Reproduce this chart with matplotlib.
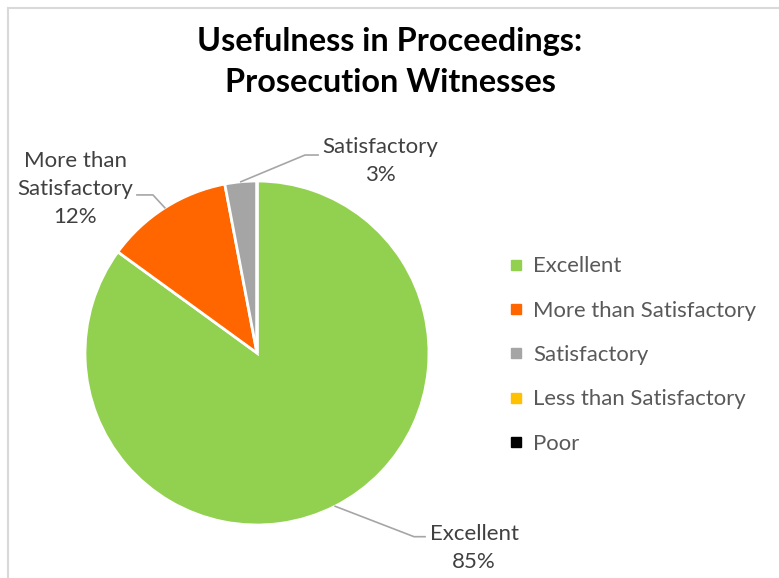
import matplotlib
matplotlib.use("Agg")
import matplotlib.pyplot as plt
from matplotlib.lines import Line2D
import numpy as np

categories = ["Excellent", "More than Satisfactory", "Satisfactory", "Less than Satisfactory", "Poor"]
values = [85, 12, 3, 0, 0]
colors = ["#92D050", "#FF6600", "#A5A5A5", "#FFC000", "#000000"]
label_texts = ["Excellent\n85%", "More than\nSatisfactory\n12%", "Satisfactory\n3%"]

plt.rcParams['font.family'] = ['Lato', 'DejaVu Sans']

W, H = 779, 578
fig = plt.figure(figsize=(W/100, H/100), dpi=100)

# border
fig.add_artist(Line2D([8/W, 8/W], [0, 1 - 8/H], color="#D9D9D9", lw=1.5, transform=fig.transFigure))
fig.add_artist(Line2D([8/W, 1], [1 - 8/H, 1 - 8/H], color="#D9D9D9", lw=1.5, transform=fig.transFigure))

cx, cy, r = 257, 353, 172
ax = fig.add_axes([(cx - r)/W, (H - cy - r)/H, 2*r/W, 2*r/H])

wedges, _ = ax.pie(values, colors=colors, startangle=90, counterclock=False, radius=1,
                   wedgeprops=dict(edgecolor="white", linewidth=2))
ax.set_xlim(-1, 1)
ax.set_ylim(-1, 1)
ax.axis("off")

# label layout (data coords) : text center, elbow, end
layout = [
    dict(text=(1.262, -1.135), elbow=(0.913, -1.068), end=(0.977, -1.068)),
    dict(text=(-1.058, 0.955), elbow=(-0.605, 0.919), end=(-0.698, 0.919)),
    dict(text=(0.715, 1.116), elbow=(0.279, 1.151), end=(0.355, 1.151)),
]
for w, lab, lay in zip(wedges[:3], label_texts, layout):
    ang = np.deg2rad((w.theta1 + w.theta2) / 2)
    p0 = (np.cos(ang), np.sin(ang))
    ax.plot([p0[0], lay["elbow"][0], lay["end"][0]], [p0[1], lay["elbow"][1], lay["end"][1]],
            color="#A6A6A6", lw=1.2, clip_on=False)
    ax.text(lay["text"][0], lay["text"][1], lab, ha="center", va="center", fontsize=16,
            color="#404040", linespacing=1.5, clip_on=False)

fig.text(390/W, 1 - 62/H, "Usefulness in Proceedings:\nProsecution Witnesses", ha="center", va="center",
         fontsize=23.3, fontweight="bold", color="#000000", linespacing=1.52)

handles = [Line2D([], [], marker="s", linestyle="none", markersize=7, markerfacecolor=c,
                  markeredgecolor=c) for c in colors]
fig.legend(handles, categories, loc="center left", bbox_to_anchor=(501/W, 1 - 355/H),
           frameon=False, fontsize=15.9, labelcolor="#595959", handlelength=0.6,
           handletextpad=0.45, labelspacing=1.1, borderaxespad=0)

fig.savefig("out.png", dpi=100)
